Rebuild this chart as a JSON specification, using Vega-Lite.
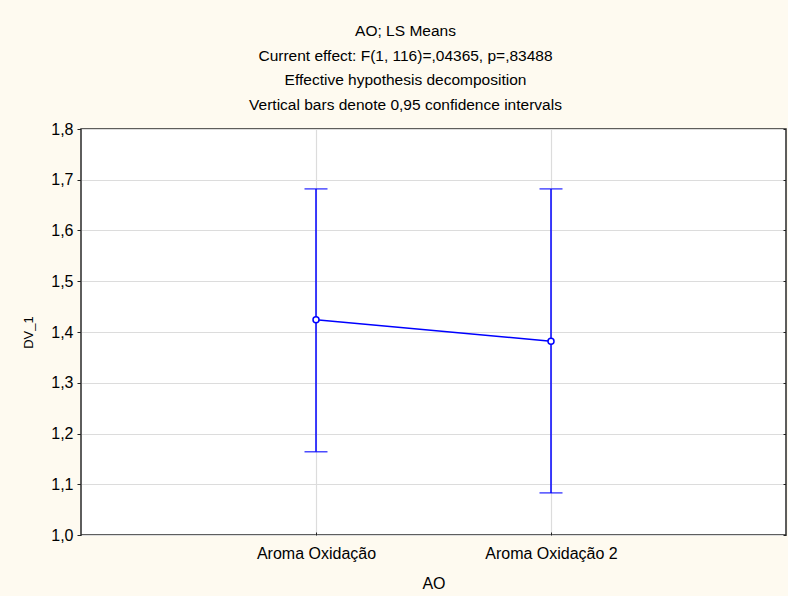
{
  "$schema": "https://vega.github.io/schema/vega-lite/v6.json",
  "width": 705,
  "height": 406,
  "autosize": {"type": "none"},
  "padding": {"left": 81, "top": 129, "right": 2, "bottom": 61},
  "background": "#FEFAF0",
  "config": {
    "font": "Liberation Sans",
    "view": {"fill": "white", "stroke": "#2a2a2a", "strokeWidth": 1.5},
    "axis": {"labelFont": "Liberation Sans", "titleFont": "Liberation Sans", "labelFontSize": 16, "titleFontSize": 16, "titleFontWeight": "normal", "labelColor": "#000", "titleColor": "#000", "gridColor": "#DCDCDC", "gridWidth": 1.2, "domain": false, "tickColor": "#222"}
  },
  "title": {
    "text": ["AO; LS Means", "Current effect: F(1, 116)=,04365, p=,83488", "Effective hypothesis decomposition", "Vertical bars denote 0,95 confidence intervals"],
    "font": "Liberation Sans",
    "fontSize": 15.5,
    "fontWeight": "normal",
    "color": "#000",
    "lineHeight": 24.5,
    "anchor": "middle",
    "frame": "group",
    "dx": -28,
    "offset": 8
  },
  "data": {"values": [
    {"AO": "Aroma Oxidação", "mean": 1.424, "lo": 1.164, "hi": 1.682},
    {"AO": "Aroma Oxidação 2", "mean": 1.382, "lo": 1.083, "hi": 1.682}
  ]},
  "encoding": {
    "x": {"field": "AO", "type": "nominal", "sort": null,
      "scale": {"type": "point", "padding": 1},
      "axis": {"title": "AO", "labelAngle": 0, "grid": true, "tickSize": -3, "labelPadding": 13, "titlePadding": 14}}
  },
  "resolve": {"axis": {"y": "independent"}},
  "layer": [
    {
      "mark": {"type": "rule", "color": "#0000FF", "strokeWidth": 1.5},
      "encoding": {
        "y": {"field": "lo", "type": "quantitative", "scale": {"domain": [1, 1.8], "nice": false, "zero": false},
          "axis": {"title": "DV_1", "titleFontSize": 13, "values": [1, 1.1, 1.2, 1.3, 1.4, 1.5, 1.6, 1.7, 1.8], "labelExpr": "replace(format(datum.value, '.1f'), '.', ',')", "tickSize": 4, "labelPadding": 4, "titlePadding": 15, "grid": true}},
        "y2": {"field": "hi"}
      }
    },
    {
      "mark": {"type": "tick", "color": "#0000FF", "size": 23, "thickness": 1.5},
      "encoding": {"y": {"field": "lo", "type": "quantitative", "axis": null}}
    },
    {
      "mark": {"type": "tick", "color": "#0000FF", "size": 23, "thickness": 1.5},
      "encoding": {"y": {"field": "hi", "type": "quantitative", "axis": null}}
    },
    {
      "mark": {"type": "line", "color": "#0000FF", "strokeWidth": 1.5},
      "encoding": {"y": {"field": "mean", "type": "quantitative", "axis": null}}
    },
    {
      "mark": {"type": "point", "shape": "circle", "color": "#0000FF", "filled": false, "fill": "white", "fillOpacity": 1, "size": 36, "strokeWidth": 1.5, "opacity": 1},
      "encoding": {"y": {"field": "mean", "type": "quantitative",
        "axis": {"orient": "right", "title": null, "labels": false, "grid": false, "tickSize": -3, "values": [1, 1.1, 1.2, 1.3, 1.4, 1.5, 1.6, 1.7, 1.8]}}}
    }
  ]
}
